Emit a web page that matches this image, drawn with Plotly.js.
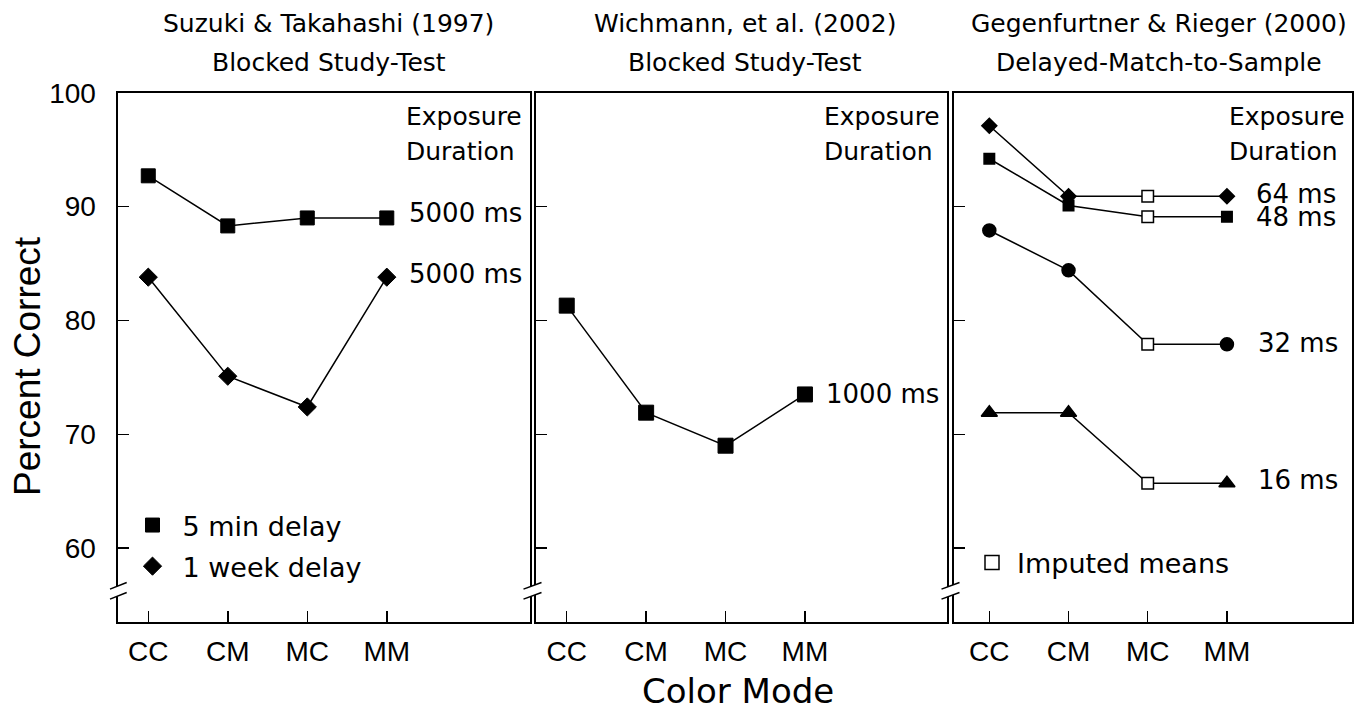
<!DOCTYPE html>
<html>
<head>
<meta charset="utf-8">
<script src="https://cdn.plot.ly/plotly-3.0.1.min.js"></script>
<style>html,body{margin:0;padding:0;background:#fff}</style>
</head>
<body>
<div id="chart" style="width:1371px;height:711px"></div>
<script>
// ---------- data ----------
const colorModes = ['CC', 'CM', 'MC', 'MM'];
const modeIndex = [1, 2, 3, 4];
const yTicks = [60, 70, 80, 90, 100];

// Panel 1: Suzuki & Takahashi (1997)
const suzuki5min = [92.7, 88.3, 89.0, 89.0];
const suzuki1week = [83.8, 75.1, 72.4, 83.8];

// Panel 2: Wichmann, et al. (2002)
const wichmann1000 = [81.3, 71.9, 69.0, 73.5];

// Panel 3: Gegenfurtner & Rieger (2000)
const gr64 = [97.1, 90.9, 90.9, 90.9];
const gr48 = [94.2, 90.1, 89.1, 89.1];
const gr32 = [87.9, 84.4, 77.9, 77.9];
const gr16 = [71.9, 71.9, 65.7, 65.7];
const grImputed = [false, false, true, false];

const panelTitles = [
  ['Suzuki & Takahashi (1997)', 'Blocked Study-Test'],
  ['Wichmann, et al. (2002)', 'Blocked Study-Test'],
  ['Gegenfurtner & Rieger (2000)', 'Delayed-Match-to-Sample']
];

// ---------- layout helpers ----------
const W = 1371, H = 711;
const SANS = 'DejaVu Sans, sans-serif';
const ARIAL = 'Liberation Sans, Arial, sans-serif';
const px2x = p => p / W;
const py2y = p => 1 - p / H;

const panelPx = [[117.5, 529.5], [536, 947], [954, 1352]];
const xRanges = [[0.613, 5.795], [0.613, 5.789], [0.554, 5.579]];
const yDomain = [py2y(621.5), py2y(92.7)];
const yRange = [53.56, 100];

function xAxis(i) {
  return {
    domain: [px2x(panelPx[i][0]), px2x(panelPx[i][1])],
    range: xRanges[i], anchor: i === 0 ? 'y' : 'y' + (i + 1),
    tickmode: 'array', tickvals: modeIndex, ticktext: colorModes,
    ticks: 'inside', ticklen: 11, tickwidth: 1.5, tickcolor: '#000',
    showline: true, linewidth: 2, linecolor: '#000', mirror: true,
    showgrid: false, zeroline: false, fixedrange: true,
    tickfont: {family: ARIAL, size: 28, color: '#000'},
    ticklabelstandoff: 4
  };
}
function yAxis(i) {
  return {
    domain: yDomain, range: yRange, anchor: i === 0 ? 'x' : 'x' + (i + 1),
    tickmode: 'array', tickvals: yTicks,
    ticks: 'inside', ticklen: 11, tickwidth: 1.5, tickcolor: '#000',
    showline: true, linewidth: 2, linecolor: '#000', mirror: true,
    showgrid: false, zeroline: false, fixedrange: true,
    showticklabels: i === 0,
    tickfont: {family: ARIAL, size: 28, color: '#000'},
    ticklabelstandoff: 14
  };
}

const axX = ['x', 'x2', 'x3'];
const axY = ['y', 'y2', 'y3'];

function series(i, y, symbol, size) {
  return {
    type: 'scatter', mode: 'lines+markers', x: modeIndex, y: y,
    xaxis: axX[i], yaxis: axY[i], showlegend: false, cliponaxis: false,
    line: {color: '#000', width: 1.5},
    marker: {symbol: symbol, size: size, color: '#000', opacity: 1, line: {color: '#000', width: 1}}
  };
}

function grSeries(y, symbol, size) {
  return {
    type: 'scatter', mode: 'lines+markers', x: modeIndex, y: y,
    xaxis: 'x3', yaxis: 'y3', showlegend: false, cliponaxis: false,
    line: {color: '#000', width: 1.5},
    marker: {
      symbol: grImputed.map(f => f ? 'square' : symbol),
      size: grImputed.map(f => f ? 11.5 : size),
      color: grImputed.map(f => f ? '#fff' : '#000'),
      opacity: 1,
      line: {color: '#000', width: 1.5}
    }
  };
}

function legendEntry(name, symbol, fill, legend, group) {
  return {
    type: 'scatter', mode: 'markers', x: [null], y: [null], name: name,
    xaxis: legend === 'legend' ? 'x' : 'x3', yaxis: legend === 'legend' ? 'y' : 'y3',
    showlegend: true, legend: legend, legendgroup: group,
    marker: {symbol: symbol, size: 14, color: fill, opacity: 1,
             line: {color: '#000', width: fill === '#000' ? 1 : 1.5}}
  };
}

const traces = [
  series(0, suzuki5min, 'square', 14),
  series(0, suzuki1week, 'diamond', 14),
  series(1, wichmann1000, 'square', 15),
  grSeries(gr16, 'triangle-up', 14),
  grSeries(gr32, 'circle', 13),
  grSeries(gr48, 'square', 10.5),
  grSeries(gr64, 'diamond', 11.5),
  legendEntry('5 min delay', 'square', '#000', 'legend', 'a'),
  legendEntry('1 week delay', 'diamond', '#000', 'legend', 'b'),
  legendEntry('Imputed means', 'square', '#fff', 'legend2', 'c')
];

// ---------- annotations ----------
const annotations = [];
const titleShift = [5, 3.5, 6];
panelTitles.forEach((t, i) => {
  [23.5, 62.5].forEach((py, k) => {
    annotations.push({
      text: t[k], xref: axX[i] + ' domain', x: 0.5, xshift: titleShift[i],
      yref: 'paper', y: py2y(py), xanchor: 'center', yanchor: 'middle',
      showarrow: false, font: {family: SANS, size: 25, color: '#000'}
    });
  });
  [['Exposure', -23.8], ['Duration', -58.3]].forEach(([txt, ys]) => {
    annotations.push({
      text: txt, xref: axX[i] + ' domain', x: 1, xshift: -125.5, xanchor: 'left',
      yref: axY[i] + ' domain', y: 1, yshift: ys, yanchor: 'middle',
      showarrow: false, font: {family: SANS, size: 25, color: '#000'}
    });
  });
});

function valueLabel(i, y, text, xs, ys, h) {
  const a = {
    text: text, xref: axX[i], x: modeIndex[3], yref: axY[i], y: y[3],
    xanchor: 'left', yanchor: 'middle', xshift: xs, yshift: ys,
    showarrow: false, font: {family: SANS, size: 26, color: '#000'}
  };
  if (h) { a.height = h; a.valign = 'middle'; a.borderpad = 0; }
  annotations.push(a);
}
valueLabel(0, suzuki5min, '5000 ms', 20, 5);
valueLabel(0, suzuki1week, '5000 ms', 20, 3);
valueLabel(1, wichmann1000, '1000 ms', 19, 0.5);
valueLabel(2, gr64, '64 ms', 28, 2, 22);
valueLabel(2, gr48, '48 ms', 28, -0.5, 22);
valueLabel(2, gr32, '32 ms', 29, 1);
valueLabel(2, gr16, '16 ms', 29, 3);

annotations.push({
  text: 'Percent Correct', textangle: -90, xref: 'paper', x: px2x(27), xanchor: 'center',
  yref: 'paper', y: py2y(366), yanchor: 'middle', showarrow: false,
  font: {family: ARIAL, size: 37, color: '#000'}
});
annotations.push({
  text: 'Color Mode', xref: 'x2 domain', x: 0.5, xshift: -3.5, xanchor: 'center',
  yref: 'paper', y: py2y(691), yanchor: 'middle', showarrow: false, borderpad: 0,
  font: {family: SANS, size: 34, color: '#000'}
});

// ---------- axis-break marks ----------
const breakAt = 56.25;
const shapes = [];
const breakSpan = [[-7.5, 9.2], [-12.5, 5.5], [-12.5, 5.5]];
for (let i = 0; i < 3; i++) {
  const [a, b] = breakSpan[i];
  const base = {xref: axX[i] + ' domain', xanchor: 0, xsizemode: 'pixel',
                yref: axY[i], yanchor: breakAt, ysizemode: 'pixel', layer: 'above'};
  shapes.push(Object.assign({}, base, {
    type: 'path', path: `M ${a},1.7 L ${b},8.3 L ${b},-1.7 L ${a},-8.3 Z`,
    fillcolor: '#fff', line: {width: 0}
  }));
  shapes.push(Object.assign({}, base, {type: 'line', x0: a, x1: b, y0: 1.7, y1: 8.3, line: {color: '#000', width: 1.5}}));
  shapes.push(Object.assign({}, base, {type: 'line', x0: a, x1: b, y0: -8.3, y1: -1.7, line: {color: '#000', width: 1.5}}));
}

const legendFont = {family: SANS, size: 27, color: '#000'};
const layout = {
  width: W, height: H, margin: {l: 0, r: 0, t: 0, b: 0},
  paper_bgcolor: '#fff', plot_bgcolor: '#fff', hovermode: false,
  xaxis: xAxis(0), xaxis2: xAxis(1), xaxis3: xAxis(2),
  yaxis: yAxis(0), yaxis2: yAxis(1), yaxis3: yAxis(2),
  annotations: annotations, shapes: shapes,
  legend: {x: px2x(122.5), y: py2y(501), xanchor: 'left', yanchor: 'top',
           bgcolor: 'rgba(0,0,0,0)', borderwidth: 0, font: legendFont, itemwidth: 50,
           traceorder: 'grouped', tracegroupgap: 3, itemclick: false},
  legend2: {x: px2x(967), y: py2y(538.5), xanchor: 'left', yanchor: 'top', itemwidth: 40,
            bgcolor: 'rgba(0,0,0,0)', borderwidth: 0, font: legendFont, itemclick: false}
};

Plotly.newPlot('chart', traces, layout, {staticPlot: true, displayModeBar: false});
</script>
</body>
</html>
